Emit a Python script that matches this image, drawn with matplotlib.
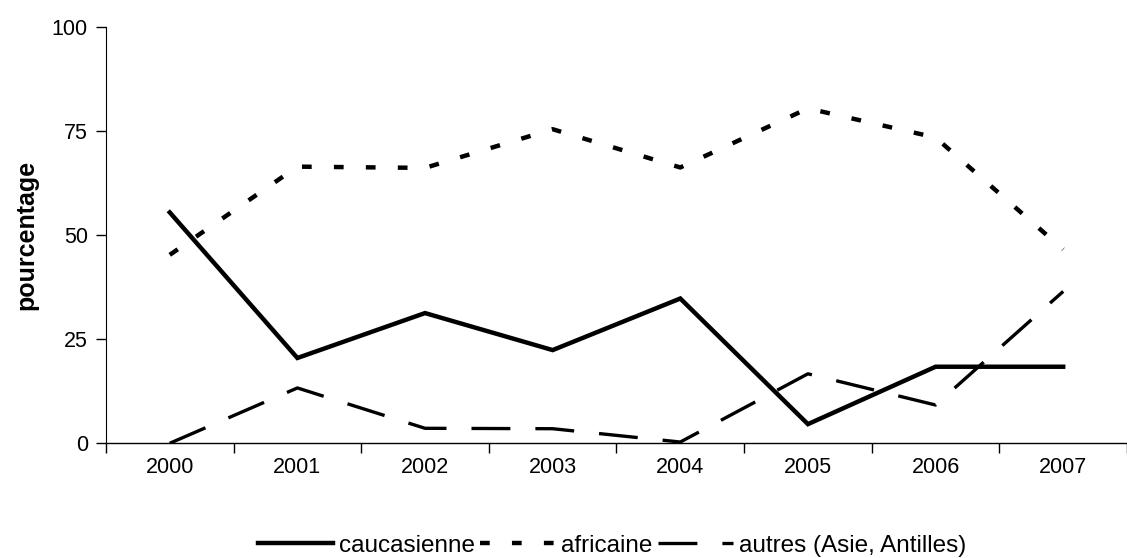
import matplotlib.pyplot as plt
import numpy as np

plt.rcParams['font.family'] = ['Liberation Sans', 'DejaVu Sans']
plt.rcParams['lines.scale_dashes'] = False

years = ['2000', '2001', '2002', '2003', '2004', '2005', '2006', '2007']
caucasienne = [55.5, 20.5, 31.3, 22.4, 34.8, 4.6, 18.4, 18.4]
africaine = [45.3, 66.5, 66.2, 75.5, 66.3, 80.5, 73.5, 46.6]
autres = [0, 13.3, 3.6, 3.5, 0.3, 16.7, 9.2, 36.5]

fig = plt.figure(figsize=(11.27, 5.58), dpi=100)
ax = fig.add_axes([0.094, 0.2056, 0.906, 0.7455])

x = np.arange(len(years))
ax.plot(x, caucasienne, color='black', lw=3.2, solid_joinstyle='miter',
        label='caucasienne')
ax.plot(x, africaine, color='black', lw=3.2, dashes=(7, 16),
        label='africaine')
ax.plot(x, autres, color='black', lw=2.4, dashes=(28, 18),
        label='autres (Asie, Antilles)')

ax.set_xlim(-0.5, 7.5)
ax.set_ylim(0, 100)
ax.set_yticks([0, 25, 50, 75, 100])
ax.set_xticks(x)
ax.set_xticklabels(years)
ax.set_xticks(np.arange(-0.5, 8, 1), minor=True)
ax.tick_params(axis='x', which='major', length=0, pad=10, labelsize=15.5)
ax.tick_params(axis='x', which='minor', length=7, width=1, direction='out')
ax.tick_params(axis='y', length=7, width=1, direction='out', labelsize=15.5, pad=6)

for s in ['top', 'right']:
    ax.spines[s].set_visible(False)
ax.spines['left'].set_linewidth(0.8)
ax.spines['bottom'].set_linewidth(1.0)

ax.set_ylabel('pourcentage', fontsize=18, fontweight='bold', labelpad=10)

fig.legend(loc='center', bbox_to_anchor=(0.543, 0.022), ncol=3, frameon=False,
           fontsize=17.5, handlelength=3.1, handletextpad=0.25, columnspacing=0.2)

fig.savefig('out.png', dpi=100)
